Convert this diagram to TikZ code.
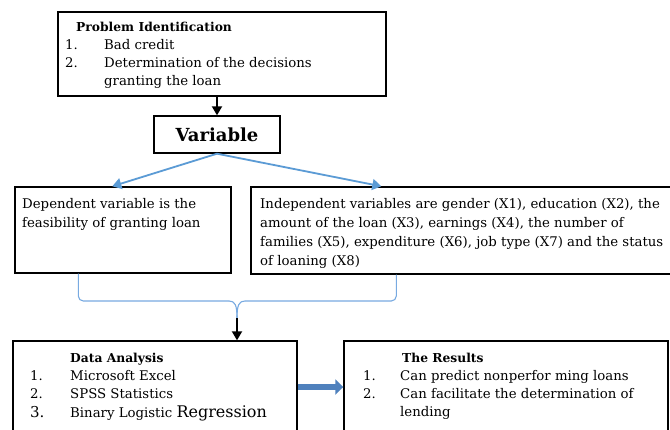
\documentclass[tikz,border=0pt]{standalone}
\usepackage{fontspec}
\setmainfont{DejaVu Serif}
\usetikzlibrary{arrows.meta,calc,shadows}
\definecolor{lineblue}{RGB}{91,155,213}
\definecolor{bracecol}{RGB}{120,170,225}
\definecolor{fatblue}{RGB}{79,129,189}
\begin{document}
\begin{tikzpicture}[x=1pt,y=-1pt,
  box/.style={draw=black, line width=1.4pt, inner sep=0pt, rectangle, fill=white},
  shbox/.style={box, drop shadow={shadow xshift=1.2pt, shadow yshift=-1.2pt, fill=black!45, opacity=1}},
  txt/.style={anchor=base west, inner sep=0pt, font=\fontsize{13.3}{16}\selectfont, text=black},
  head/.style={anchor=base west, inner sep=0pt, font=\fontsize{12.3}{14}\selectfont\bfseries},
  blarrow/.style={draw=lineblue, line width=1.8pt, -{Triangle[length=9pt,width=11pt]}},
  karrow/.style={draw=black, line width=2pt, -{Triangle[length=9pt,width=10pt]}},
  bracepath/.style={draw=bracecol, line width=1.1pt}
]
\clip (0,0) rectangle (670,429);
\fill[white] (0,0) rectangle (670,429);

% boxes
\node[shbox, minimum width=328pt, minimum height=84pt] (prob) at (222,54) {};
\node[box, minimum width=126pt, minimum height=37pt] (var) at (217,134.5) {};
\node[shbox, minimum width=216pt, minimum height=86pt] (dep) at (123,230) {};
\node[shbox, minimum width=440pt, minimum height=87pt] (ind) at (471,230.5) {};
\node[box, minimum width=284pt, minimum height=92pt] (data) at (155,387) {};
\node[box, minimum width=324pt, minimum height=92pt] (res) at (506,387) {};

% problem identification text
\node[head] (pih) at (76,31) {Problem Identification};
\node[txt] (pi1n) at (65,49) {1.};
\node[txt] (pi1) at (104,49) {Bad credit};
\node[txt] (pi2n) at (65,67) {2.};
\node[txt] (pi2) at (104,67) {Determination of the decisions};
\node[txt] (pi2b) at (104,85) {granting the loan};

% variable
\node[anchor=center, inner sep=0pt, font=\fontsize{18}{20}\selectfont\bfseries] (vart) at (var.center) {Variable};

% dependent
\node[txt] (d1) at (22,208) {Dependent variable is the};
\node[txt] (d2) at (22,227) {feasibility of granting loan};

% independent
\node[txt] (i1) at (260,208) {Independent variables are gender (X1), education (X2), the};
\node[txt] (i2) at (260,227) {amount of the loan (X3), earnings (X4), the number of};
\node[txt] (i3) at (260,246) {families (X5), expenditure (X6), job type (X7) and the status};
\node[txt] (i4) at (260,265) {of loaning (X8)};

% data analysis
\node[head] (dah) at (70,362) {Data Analysis};
\node[txt] (da1n) at (30,380) {1.};
\node[txt] (da1) at (70,380) {Microsoft Excel};
\node[txt] (da2n) at (30,398) {2.};
\node[txt] (da2) at (70,398) {SPSS Statistics};
\node[txt, font=\fontsize{15}{16}\selectfont] (da3n) at (30,417) {3.};
\node[txt] (da3) at (70,417) {Binary Logistic {\fontsize{16}{16}\selectfont Regression}};

% results
\node[head] (rsh) at (402,362) {The Results};
\node[txt] (rs1n) at (363,380) {1.};
\node[txt] (rs1) at (400,380) {Can predict nonperfor ming loans};
\node[txt] (rs2n) at (363,398) {2.};
\node[txt] (rs2) at (400,398) {Can facilitate the determination of};
\node[txt] (rs2b) at (400,416) {lending};

% connectors
\draw[karrow] (var.north |- prob.south) -- (var.north);
\draw[blarrow] (var.south) -- ($(dep.north west)+(98,0)$);
\draw[blarrow] (var.south) -- ($(ind.north west)+(131,0)$);

\coordinate (bl) at ($(dep.south west)+(64,0)$);
\coordinate (br) at ($(ind.south west)+(146,0)$);
\coordinate (bt) at (237,318);
\draw[bracepath, rounded corners=5pt] (bl) -- (bl |- 0,301) -- (229,301);
\draw[bracepath] (229,301) .. controls (235,301) and (237,305) .. (bt);
\draw[bracepath] (bt) .. controls (237,305) and (239,301) .. (245,301);
\draw[bracepath, rounded corners=5pt] (245,301) -- (br |- 0,301) -- (br);

\draw[karrow] (bt) -- (bt |- data.north);

\draw[draw=fatblue, line width=6.5pt, -{Triangle[length=8pt,width=15pt]}] (data.east) -- (res.west);
\end{tikzpicture}
\end{document}
